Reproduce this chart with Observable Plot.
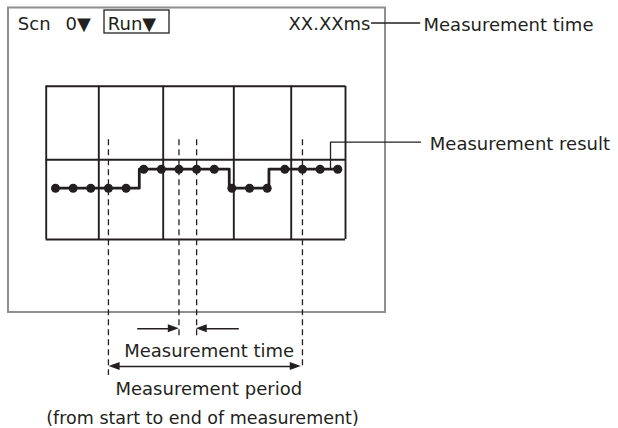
<!DOCTYPE html>
<html><head><meta charset="utf-8">
<script src="https://cdn.jsdelivr.net/npm/d3@7"></script>
<script src="https://cdn.jsdelivr.net/npm/@observablehq/plot@0.6"></script>
<style>body{margin:0;background:#fff}</style>
</head><body><div id="chart"></div>
<script>
// Measurement samples (index) and their result level (0 = low, 1 = high)
const sampleIndex = [0,1,2,3,4,5,6,7,8,9,10,11,12,13,14,15,16];
const sampleLevel = [0,0,0,0,0,1,1,1,1,1,0,0,0,1,1,1,1];
// Step trace vertices (sample units / levels)
const traceX = [0,4.75,4.75,9.85,9.85,12.1,12.1,16];
const traceY = [0,0,1,1,0,0,1,1];
// Screen frame and inner grid (sample units / levels)
const screenX = [-2.664, 18.707];
const screenY = [-6.542, 9.484];
const gridX = [-0.527, 2.455, 6.105, 10.108, 13.362, 16.44];
const gridY = [-2.7, 1.495, 5.368];
// Dashed cursor lines at samples
const cursorX = [3, 7, 8, 14];
const cursorTop = 2.547;
const cursorBottom = [-9.858, -7.842, -7.842, -9.489];
// Arrows: from, to (tip), y
const arrowFrom = [4.632, 10.391, 8.7, 8.7];
const arrowTo   = [7.02, 7.98, 3.04, 13.93];
const arrowY    = [-7.4, -7.4, -9.384, -9.384];
// Run box
const runBoxX = [2.778, 6.463];
const runBoxY = [8.142, 9.353];
// Leader lines (polylines)
const leaderTimeX = [17.914, 20.65];
const leaderTimeY = [8.695, 8.695];
const leaderResultX = [20.692, 15.59, 15.59];
const leaderResultY = [2.421, 2.421, 1];
// Labels
const labelText = ["Scn", "0\u25BC", "Run\u25BC", "XX.XXms", "Measurement time", "Measurement result",
  "Measurement time", "Measurement period", "(from start to end of measurement)"];
const labelX = [-2.137, 0.567, 2.965, 17.857, 20.862, 21.218, 8.71, 8.69, 8.333];
const labelY = [8.656, 8.656, 8.656, 8.656, 8.577, 2.34, -8.589, -10.605, -12.095];
const labelAnchor = ["start","start","start","end","start","start","middle","middle","middle"];
const labelSize = [18, 18, 18, 18, 18, 18, 18, 18, 17.5];

const ink = "#231f20";
const labels = labelText.map((t, i) => ({t, x: labelX[i], y: labelY[i], a: labelAnchor[i], s: labelSize[i]}));
const samples = sampleIndex.map((x, i) => ({x, y: sampleLevel[i]}));
const trace = traceX.map((x, i) => ({x, y: traceY[i]}));
const cursors = cursorX.map((x, i) => ({x, y1: cursorTop, y2: cursorBottom[i]}));
const arrows = arrowFrom.map((x1, i) => ({x1, x2: arrowTo[i], y: arrowY[i]}));
// arrowhead triangles: base back from the tip along the shaft (head length ~11px, width ~8px)
const headLen = 11 / 17.64, headHalf = 4 / 19;
const heads = arrows.flatMap((a, i) => {
  const dir = Math.sign(a.x2 - a.x1);
  return [
    {id: i, x: a.x2 - dir * headLen, y1: a.y - headHalf, y2: a.y + headHalf},
    {id: i, x: a.x2, y1: a.y, y2: a.y}
  ];
});

const chart = Plot.plot({
  width: 618, height: 428, margin: 0,
  x: {domain: [-3.118, 31.916], axis: null},
  y: {domain: [-12.647, 9.879], axis: null},
  style: {fontFamily: "DejaVu Sans", background: "white"},
  marks: [
    Plot.rect([{}], {x1: screenX[0], x2: screenX[1], y1: screenY[0], y2: screenY[1], fill: "none", stroke: "#8f8f8f", strokeWidth: 2}),
    Plot.ruleX(gridX, {y1: gridY[0], y2: gridY[2], stroke: ink, strokeWidth: 1.9}),
    Plot.ruleY(gridY, {x1: gridX[0], x2: gridX[gridX.length - 1], stroke: ink, strokeWidth: 1.9}),
    Plot.ruleX(cursors, {x: "x", y1: "y1", y2: "y2", stroke: ink, strokeWidth: 1.3, strokeDasharray: "6,4"}),
    Plot.line(trace, {x: "x", y: "y", stroke: ink, strokeWidth: 2.8}),
    Plot.dot(samples, {x: "x", y: "y", r: 4.5, fill: ink}),
    Plot.rect([{}], {x1: runBoxX[0], x2: runBoxX[1], y1: runBoxY[0], y2: runBoxY[1], fill: "none", stroke: ink, strokeWidth: 1.3}),
    Plot.line(leaderTimeX.map((x, i) => ({x, y: leaderTimeY[i]})), {x: "x", y: "y", stroke: ink, strokeWidth: 1.3}),
    Plot.line(leaderResultX.map((x, i) => ({x, y: leaderResultY[i]})), {x: "x", y: "y", stroke: ink, strokeWidth: 1.3}),
    Plot.link(arrows, {x1: "x1", x2: (d) => d.x2 - Math.sign(d.x2 - d.x1) * headLen * 0.5, y1: "y", y2: "y", stroke: ink, strokeWidth: 1.6}),
    Plot.areaY(heads, {x: "x", y1: "y1", y2: "y2", z: "id", fill: ink}),
    ...labels.map(d => Plot.text([d], {x: "x", y: "y", text: "t", textAnchor: d.a, fontSize: d.s, fill: ink}))
  ]
});
document.getElementById("chart").append(chart);
</script>
</body></html>
